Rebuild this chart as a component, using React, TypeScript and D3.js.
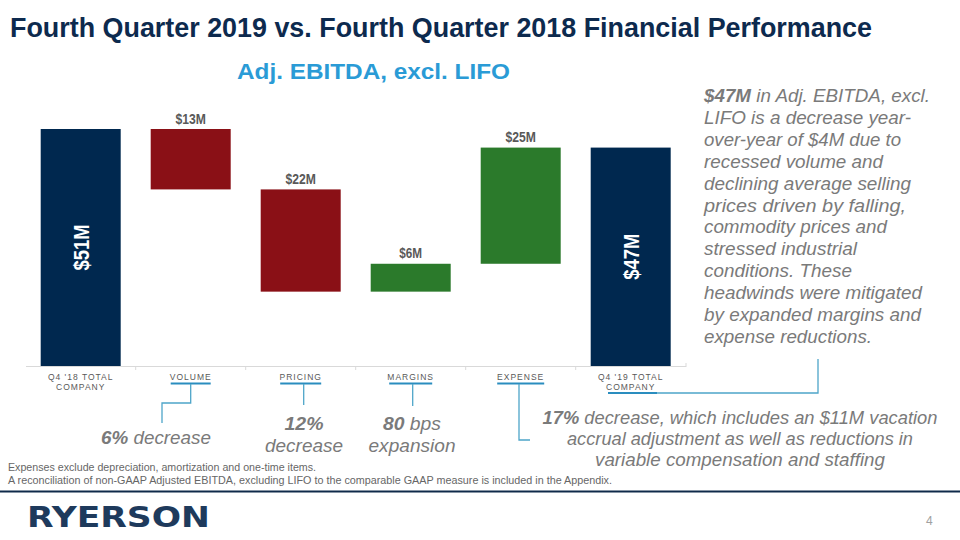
import React from "react";
import * as d3 from "d3";

const categories = ["Q4 '18 TOTAL COMPANY", "VOLUME", "PRICING", "MARGINS", "EXPENSE", "Q4 '19 TOTAL COMPANY"];
const categoryLines = [["Q4 '18 TOTAL", "COMPANY"], ["VOLUME"], ["PRICING"], ["MARGINS"], ["EXPENSE"], ["Q4 '19 TOTAL", "COMPANY"]];
const values = [51, -13, -22, 6, 25, 47];
const kinds = ["total", "delta", "delta", "delta", "delta", "total"];
const valueLabels = ["$51M", "$13M", "$22M", "$6M", "$25M", "$47M"];

const sideLines: [string, string, number][] = [
  ["$47M", " in Adj. EBITDA, excl.", 226],
  ["", "LIFO is a decrease year-", 207],
  ["", "over-year of $4M due to", 197],
  ["", "recessed volume and", 179],
  ["", "declining average selling", 207],
  ["", "prices driven by falling,", 202],
  ["", "commodity prices and", 183],
  ["", "stressed industrial", 153],
  ["", "conditions. These", 148],
  ["", "headwinds were mitigated", 218],
  ["", "by expanded margins and", 217],
  ["", "expense reductions.", 168],
];
const expenseNote: [string, string, number][] = [
  ["17%", " decrease, which includes an $11M vacation", 395],
  ["", "accrual adjustment as well as reductions in", 346],
  ["", "variable compensation and staffing", 290],
];

const NAVY = "#00284f";
const RED = "#8a1016";
const GREEN = "#2b7a2b";
const GRAY_TXT = "#7a7a7a";
const BLUE_LINE = "#2a8dbf";
const CONNECT = "#4ea5c9";
const FONT = "'Liberation Sans', Arial, sans-serif";

export default function App() {
  const x = d3.scaleBand<string>().domain(categories).range([25.7, 685.7]).paddingInner(30 / 110).paddingOuter(15 / 110);
  const y = d3.scaleLinear().domain([0, 51]).range([366, 129]);

  let running = 0;
  const bars = values.map((v, i) => {
    let lo: number, hi: number;
    if (kinds[i] === "total") {
      lo = 0; hi = v; running = v;
    } else {
      const start = running;
      running = running + v;
      lo = Math.min(start, running); hi = Math.max(start, running);
    }
    const color = kinds[i] === "total" ? NAVY : v < 0 ? RED : GREEN;
    return { cat: categories[i], lo, hi, color, label: valueLabels[i], kind: kinds[i] };
  });

  const cx = (c: string) => (x(c) as number) + x.bandwidth() / 2;
  const edges = categories.slice(1).map((c) => (x(c) as number) - (x.step() - x.bandwidth()) / 2);

  return (
    <svg width={960} height={540} style={{ position: "absolute", left: 0, top: 0, background: "#fff" }} fontFamily={FONT}>
      {/* Title */}
      <text x={10} y={37} fontSize={27} fontWeight="bold" fill="#0d2a4e" textLength={862} lengthAdjust="spacingAndGlyphs">
        Fourth Quarter 2019 vs. Fourth Quarter 2018 Financial Performance
      </text>
      <text x={237} y={79} fontSize={22} fontWeight="bold" fill="#2a9bd6" textLength={273} lengthAdjust="spacingAndGlyphs">
        Adj. EBITDA, excl. LIFO
      </text>

      {/* Axis line */}
      <line x1={26} x2={686} y1={366.5} y2={366.5} stroke="#d9d9d9" strokeWidth={1} />
      {edges.map((e, i) => (
        <line key={i} x1={e} x2={e} y1={366} y2={370} stroke="#d9d9d9" strokeWidth={1} />
      ))}
      <line x1={686} x2={686} y1={363} y2={367} stroke="#d9d9d9" strokeWidth={1} />

      {/* Bars */}
      {bars.map((b, i) => (
        <g key={i}>
          <rect x={x(b.cat)} y={y(b.hi)} width={x.bandwidth()} height={y(b.lo) - y(b.hi)} fill={b.color} />
          {b.kind === "total" ? (
            <text
              transform={`translate(${cx(b.cat)},${(y(b.lo) + y(b.hi)) / 2}) rotate(-90)`}
              textAnchor="middle"
              dy="0.36em"
              fontSize={22}
              fontWeight="bold"
              fill="#fff"
              textLength={46}
              lengthAdjust="spacingAndGlyphs"
            >
              {b.label}
            </text>
          ) : (
            <text x={cx(b.cat)} y={y(b.hi) - 5.5} textAnchor="middle" fontSize={15.5} fontWeight="bold" fill="#595959"
              textLength={b.label.length * 7.6} lengthAdjust="spacingAndGlyphs">
              {b.label}
            </text>
          )}
        </g>
      ))}

      {/* Category labels */}
      {categoryLines.map((lines, i) => (
        <g key={i}>
          {lines.map((l, j) => (
            <text key={j} x={cx(categories[i])} y={379.5 + j * 10.5} textAnchor="middle" fontSize={8.5} letterSpacing={1} fill="#595959">
              {l}
            </text>
          ))}
        </g>
      ))}

      {/* Underlines */}
      {[1, 2, 3, 4].map((i) => {
        const w = [0, 40, 41, 43, 47][i];
        const c = cx(categories[i]);
        return <line key={i} x1={c - w / 2} x2={c + w / 2} y1={383.5} y2={383.5} stroke={BLUE_LINE} strokeWidth={2.2} />;
      })}
      <line x1={608} x2={657} y1={393} y2={393} stroke={BLUE_LINE} strokeWidth={2.2} />

      {/* Connectors */}
      <g fill="none" stroke={CONNECT} strokeWidth={1.3}>
        <polyline points={`${cx("VOLUME")},384 ${cx("VOLUME")},403 162,403 162,423`} />
        <polyline points={`${cx("PRICING") + 3},384 ${cx("PRICING") + 3},405`} />
        <polyline points={`${cx("MARGINS") + 2},384 ${cx("MARGINS") + 2},406`} />
        <polyline points={`519,384 519,440 530,440`} />
        <polyline points={`657,393 818,393 818,359`} />
      </g>

      {/* Callouts */}
      <g fontStyle="italic" fontSize={19} fill={GRAY_TXT}>
        <text x={156} y={444} textAnchor="middle" textLength={110} lengthAdjust="spacingAndGlyphs">
          <tspan fontWeight="bold">6%</tspan> decrease
        </text>
        <text x={304} y={430} textAnchor="middle" fontWeight="bold" textLength={39} lengthAdjust="spacingAndGlyphs">12%</text>
        <text x={304} y={452} textAnchor="middle" textLength={78} lengthAdjust="spacingAndGlyphs">decrease</text>
        <text x={412} y={430} textAnchor="middle" textLength={58} lengthAdjust="spacingAndGlyphs">
          <tspan fontWeight="bold">80</tspan> bps
        </text>
        <text x={412} y={452} textAnchor="middle" textLength={87} lengthAdjust="spacingAndGlyphs">expansion</text>
        {expenseNote.map(([b, r, w], i) => (
          <text key={i} x={740} y={424 + i * 21} textAnchor="middle" textLength={w} lengthAdjust="spacingAndGlyphs">
            {b && <tspan fontWeight="bold">{b}</tspan>}
            {r}
          </text>
        ))}
      </g>

      {/* Side paragraph */}
      <g fontStyle="italic" fontSize={18} fill={GRAY_TXT}>
        {sideLines.map(([b, r, w], i) => (
          <text key={i} x={704} y={102 + i * 21.9} textLength={w} lengthAdjust="spacingAndGlyphs">
            {b && <tspan fontWeight="bold">{b}</tspan>}
            {r}
          </text>
        ))}
      </g>

      {/* Footnotes */}
      <g fontSize={10.5} fill="#666">
        <text x={8} y={471} textLength={308} lengthAdjust="spacingAndGlyphs">
          Expenses exclude depreciation, amortization and one-time items.
        </text>
        <text x={8} y={484} textLength={604} lengthAdjust="spacingAndGlyphs">
          A reconciliation of non-GAAP Adjusted EBITDA,  excluding LIFO  to the comparable GAAP measure is included in the Appendix.
        </text>
      </g>

      <line x1={0} x2={960} y1={491.5} y2={491.5} stroke="#0f2a4a" strokeWidth={2} />

      <text x={27} y={527} fontSize={28} fontWeight="bold" fill="#1e3a5c" fontFamily="'DejaVu Sans', sans-serif"
        textLength={183} lengthAdjust="spacingAndGlyphs">
        RYERSON
      </text>
      <text x={926} y={525} fontSize={12} fill="#a0a0a0">4</text>
    </svg>
  );
}
